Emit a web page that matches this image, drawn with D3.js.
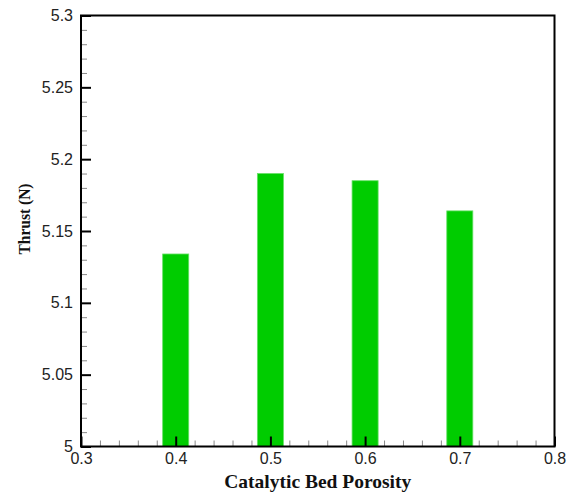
<!DOCTYPE html>
<html>
<head>
<meta charset="utf-8">
<script src="https://cdn.jsdelivr.net/npm/d3@7"></script>
<style>
  html, body { margin: 0; padding: 0; background: #fff; }
  svg { display: block; }
</style>
</head>
<body>
<script>
const porosity = [0.4, 0.5, 0.6, 0.7];
const thrust = [5.134, 5.190, 5.185, 5.164];
const xTicks = [0.3, 0.4, 0.5, 0.6, 0.7, 0.8];
const yTicks = [5, 5.05, 5.1, 5.15, 5.2, 5.25, 5.3];
const xMinor = [0.32, 0.34, 0.36, 0.38, 0.42, 0.44, 0.46, 0.48, 0.52, 0.54, 0.56, 0.58, 0.62, 0.64, 0.66, 0.68, 0.72, 0.74, 0.76, 0.78];
const yMinor = [5.01, 5.02, 5.03, 5.04, 5.06, 5.07, 5.08, 5.09, 5.11, 5.12, 5.13, 5.14, 5.16, 5.17, 5.18, 5.19, 5.21, 5.22, 5.23, 5.24, 5.26, 5.27, 5.28, 5.29];
const barHalfWidth = 0.01375;

const W = 571, H = 492;
const mLeft = 81, mRight = 554.5, mTop = 15.5, mBottom = 446.5;

const svg = d3.select("body").append("svg").attr("width", W).attr("height", H);

const x = d3.scaleLinear().domain([0.3, 0.8]).range([mLeft, mRight]);
const y = d3.scaleLinear().domain([5, 5.3]).range([mBottom, mTop]);

// bars
svg.append("g").selectAll("rect").data(porosity).join("rect")
  .attr("x", d => x(d - barHalfWidth))
  .attr("width", d => x(d + barHalfWidth) - x(d - barHalfWidth))
  .attr("y", (d, i) => y(thrust[i]))
  .attr("height", (d, i) => y(5) - y(thrust[i]))
  .attr("fill", "#00cc00")
  .attr("stroke", "#66e066")
  .attr("stroke-width", 0.8);

const tickFont = "'Liberation Sans', Arial, sans-serif";

// minor ticks
const gxm = svg.append("g").attr("transform", `translate(0,${mBottom})`)
  .call(d3.axisBottom(x).tickValues(xMinor).tickSizeInner(-6).tickSizeOuter(0).tickFormat(""));
gxm.select(".domain").remove();
gxm.selectAll("line").attr("stroke", "#888").attr("stroke-width", 1);

const gym = svg.append("g").attr("transform", `translate(${mLeft},0)`)
  .call(d3.axisLeft(y).tickValues(yMinor).tickSizeInner(-6).tickSizeOuter(0).tickFormat(""));
gym.select(".domain").remove();
gym.selectAll("line").attr("stroke", "#888").attr("stroke-width", 1);

// major axes
const gx = svg.append("g").attr("transform", `translate(0,${mBottom})`)
  .call(d3.axisBottom(x).tickValues(xTicks).tickSizeInner(-10).tickSizeOuter(0).tickPadding(6).tickFormat(d3.format(".1f")));
gx.select(".domain").remove();
gx.selectAll("line").attr("stroke", "#000").attr("stroke-width", 2);
gx.selectAll("text").attr("font-family", tickFont).attr("font-size", 16).attr("fill", "#222");

const gy = svg.append("g").attr("transform", `translate(${mLeft},0)`)
  .call(d3.axisLeft(y).tickValues(yTicks).tickSizeInner(-10).tickSizeOuter(0).tickPadding(8).tickFormat(d => String(+d.toFixed(2))));
gy.select(".domain").remove();
gy.selectAll("line").attr("stroke", "#000").attr("stroke-width", 2);
gy.selectAll("text").attr("font-family", tickFont).attr("font-size", 16).attr("fill", "#222");

// frame
svg.append("rect")
  .attr("x", mLeft).attr("y", mTop)
  .attr("width", mRight - mLeft).attr("height", mBottom - mTop)
  .attr("fill", "none").attr("stroke", "#000").attr("stroke-width", 2);

const titleFont = "'Liberation Serif', 'Times New Roman', serif";
svg.append("text")
  .attr("x", (mLeft + mRight) / 2).attr("y", 488)
  .attr("text-anchor", "middle")
  .attr("font-family", titleFont).attr("font-weight", "bold").attr("font-size", 19.5)
  .attr("fill", "#111")
  .text("Catalytic Bed Porosity");

svg.append("text")
  .attr("transform", "translate(29.5,219) rotate(-90)")
  .attr("text-anchor", "middle")
  .attr("font-family", titleFont).attr("font-weight", "bold").attr("font-size", 17)
  .attr("textLength", 71).attr("lengthAdjust", "spacingAndGlyphs")
  .attr("fill", "#111")
  .text("Thrust (N)");
</script>
</body>
</html>
